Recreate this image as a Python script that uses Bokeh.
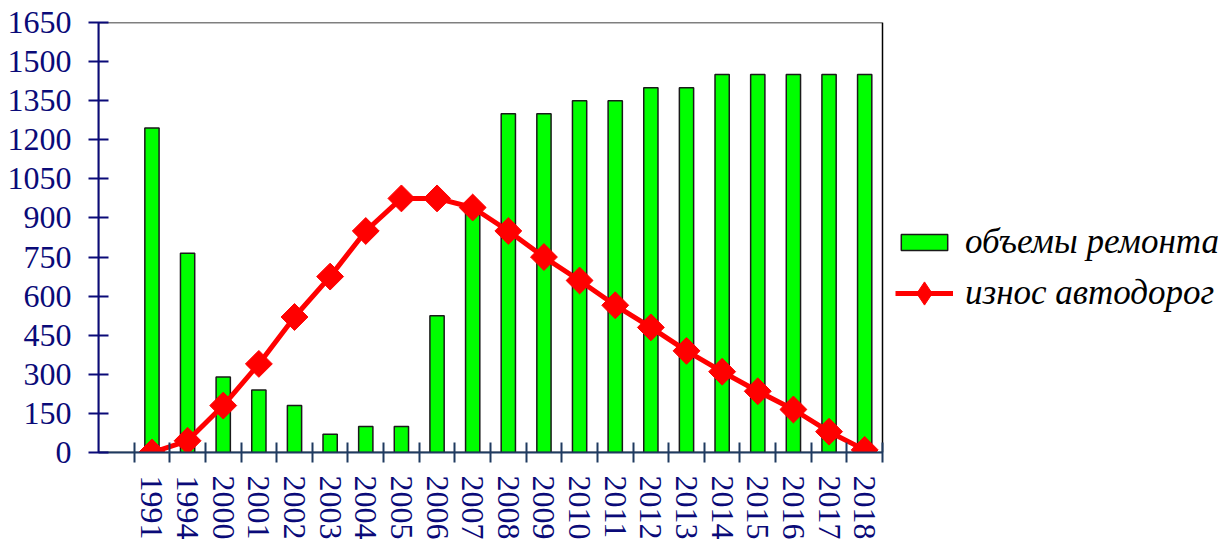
from bokeh.plotting import figure
from bokeh.models import Range1d, FixedTicker, Legend, LegendItem, BoxAnnotation
from bokeh.embed import file_html
from bokeh.resources import INLINE
import numpy as np

years = ["1991", "1994", "2000", "2001", "2002", "2003", "2004", "2005", "2006",
         "2007", "2008", "2009", "2010", "2011", "2012", "2013", "2014", "2015",
         "2016", "2017", "2018"]
repairs = [1245, 765, 290, 240, 180, 70, 100, 100, 525, 940, 1300, 1300, 1350,
           1350, 1400, 1400, 1450, 1450, 1450, 1450, 1450]
wear = [0, 45, 180, 340, 520, 675, 850, 975, 975, 940, 850, 750, 660, 565, 480,
        390, 310, 235, 165, 80, 10]
y_ticks = list(range(0, 1651, 150))
label_repairs = "объемы ремонта"
label_wear = "износ автодорог"

idx = list(range(len(years)))
n = len(years)

W, H = 1225, 542
left_px, top_px, bottom_px, plot_right_px = 98, 22, 90, 882
x0 = -1.5
x1 = n - 0.5
slot_px = (plot_right_px - left_px) / (x1 - x0)
x_end = x0 + (W - left_px) / slot_px   # frame continues under the legend

p = figure(width=W, height=H, output_backend="svg", toolbar_location=None,
           x_range=Range1d(x0, x_end), y_range=Range1d(0, y_ticks[-1]),
           min_border_left=left_px, min_border_top=top_px, min_border_right=0,
           min_border_bottom=bottom_px)
p.xgrid.visible = False
p.ygrid.visible = False
p.outline_line_color = None
p.background_fill_color = "white"
p.border_fill_color = "white"

plot_box = BoxAnnotation(left=x0, right=x1, bottom=0, top=y_ticks[-1],
                         fill_alpha=0, line_color="black", line_alpha=1.0,
                         line_width=1.5, level="underlay")
p.add_layout(plot_box)

bars = p.vbar(x=idx, top=repairs, width=0.4, bottom=0, fill_color="#00FF00",
              line_color="#1a1a1a", line_width=1.5)
line = p.line(idx, wear, line_color="#FF0000", line_width=5)
pts = p.scatter(idx, wear, marker="square", angle=np.pi / 4, size=19,
                fill_color="#FF0000", line_color="#FF0000")
# legend-only marker (not drawn in the plot: NaN position)
leg_marker = p.scatter(x=[np.nan], y=[np.nan], marker="diamond", size=10,
                       fill_color="#FF0000", line_color="#FF0000")

navy = "#0A0A78"
font = "Liberation Serif"

ya = p.yaxis[0]
ya.ticker = FixedTicker(ticks=y_ticks)
ya.axis_line_color = navy
ya.axis_line_width = 2
ya.major_tick_line_color = navy
ya.major_tick_line_width = 2
ya.major_tick_in = 10
ya.major_tick_out = 10
ya.minor_tick_out = 0
ya.minor_tick_in = 0
ya.major_label_text_font = font
ya.major_label_text_font_size = "32px"
ya.major_label_text_color = navy
ya.major_label_standoff = 17

xa = p.xaxis[0]
xa.bounds = (x0, x1)
xa.ticker = FixedTicker(ticks=idx, minor_ticks=[i - 0.5 for i in idx] + [x1])
xa.major_label_overrides = {i: y for i, y in zip(idx, years)}
xa.major_label_orientation = "vertical"
xa.axis_line_color = "#1F3A60"
xa.axis_line_width = 2
xa.major_tick_in = 0
xa.major_tick_out = 0
xa.minor_tick_in = 10
xa.minor_tick_out = 10
xa.minor_tick_line_color = "#1F3A60"
xa.minor_tick_line_width = 2
xa.major_label_text_font = font
xa.major_label_text_font_size = "32px"
xa.major_label_text_color = navy
xa.major_label_standoff = 13

common = dict(orientation="vertical", border_line_color=None,
              background_fill_alpha=0, padding=0, margin=0, glyph_width=58,
              label_standoff=12, label_text_font=font,
              label_text_font_style="italic", label_text_font_size="35px",
              label_text_color="black", label_height=40)

legend_a = Legend(items=[LegendItem(label=label_repairs, renderers=[bars])],
                  location=(797, 190), glyph_height=20, **common)
legend_b = Legend(items=[LegendItem(label=label_wear, renderers=[line, leg_marker])],
                  location=(797, 129), glyph_height=60, **common)
p.add_layout(legend_a, "center")
p.add_layout(legend_b, "center")

open("out.html", "w").write(file_html(p, INLINE))
